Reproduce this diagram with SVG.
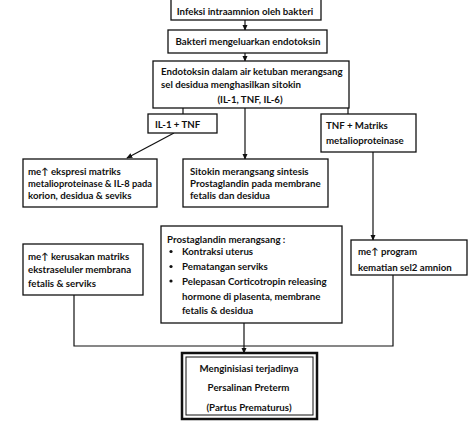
<svg xmlns="http://www.w3.org/2000/svg" width="474" height="427" viewBox="0 0 474 427">
<style>
.b{fill:#fff;stroke:#111;stroke-width:1.3}
.t{font-family:Lato,"Liberation Sans","DejaVu Sans",sans-serif;font-size:9.7px;font-weight:700;fill:#111}
.c{text-anchor:middle}
.l{fill:none;stroke:#111;stroke-width:1.2}
.a{fill:none;stroke:#111;stroke-width:1.2;marker-end:url(#ah)}
</style>
<defs>
<marker id="ah" viewBox="0 0 8 8" refX="7" refY="4" markerWidth="6" markerHeight="6" markerUnits="userSpaceOnUse" orient="auto">
<path d="M0,0.5 L8,4 L0,7.5 Z" fill="#111"/>
</marker>
</defs>
<rect width="474" height="427" fill="#fff"/>
<g id="connectors">
<line class="a" x1="245" y1="20" x2="245" y2="30"/>
<line class="a" x1="245" y1="53" x2="245" y2="61"/>
<line class="l" x1="183" y1="108" x2="183" y2="114"/>
<line class="a" x1="245" y1="108" x2="245" y2="159"/>
<line class="l" x1="348" y1="108" x2="348" y2="114"/>
<line class="a" x1="174" y1="133" x2="127" y2="158"/>
<line class="a" x1="373" y1="152" x2="373" y2="240"/>
<polyline class="l" points="74,295 74,346 393,346 393,275"/>
<line class="a" x1="244" y1="323" x2="244" y2="353"/>
</g>
<g id="n1">
<rect class="b" x="171" y="-2" width="150" height="22"/>
<text class="t c" x="245" y="14.5">Infeksi  intraamnion oleh bakteri</text>
</g>
<g id="n2">
<rect class="b" x="168" y="30" width="159" height="23"/>
<text class="t c" x="248" y="44.5">Bakteri mengeluarkan endotoksin</text>
</g>
<g id="n3">
<rect class="b" x="153" y="61" width="196" height="47"/>
<text class="t" x="161" y="75">Endotoksin dalam air ketuban merangsang</text>
<text class="t" x="161" y="88">sel desidua menghasilkan sitokin</text>
<text class="t c" x="250" y="103">(IL-1, TNF, IL-6)</text>
</g>
<g id="n4">
<rect class="b" x="148" y="114" width="69" height="19"/>
<text class="t" x="155" y="127.5">IL-1 + TNF</text>
</g>
<g id="n5">
<rect class="b" x="321" y="114" width="95" height="38"/>
<text class="t" x="326" y="128.5">TNF + Matriks</text>
<text class="t" x="326" y="143.5">metalioproteinase</text>
</g>
<g id="n6">
<rect class="b" x="23" y="159" width="134" height="48"/>
<text class="t" x="28" y="175">me↑ ekspresi matriks</text>
<text class="t" x="28" y="187" textLength="124" lengthAdjust="spacingAndGlyphs">metalioproteinase &amp; IL-8 pada</text>
<text class="t" x="28" y="199">korion, desidua &amp; seviks</text>
</g>
<g id="n7">
<rect class="b" x="183" y="159" width="145" height="48"/>
<text class="t" x="190" y="175">Sitokin merangsang sintesis</text>
<text class="t" x="190" y="187">Prostaglandin pada membrane</text>
<text class="t" x="190" y="199">fetalis dan desidua</text>
</g>
<g id="n8">
<rect class="b" x="23" y="244" width="120" height="51"/>
<text class="t" x="28" y="260">me↑ kerusakan matriks</text>
<text class="t" x="28" y="273">ekstraseluler membrana</text>
<text class="t" x="28" y="287">fetalis &amp; serviks</text>
</g>
<g id="n9">
<rect class="b" x="161" y="226" width="181" height="97"/>
<text class="t" x="167" y="242.5">Prostaglandin merangsang :</text>
<circle cx="171" cy="251.5" r="1.6" fill="#111"/>
<circle cx="171" cy="266.5" r="1.6" fill="#111"/>
<circle cx="171" cy="281" r="1.6" fill="#111"/>
<text class="t" x="182" y="255">Kontraksi  uterus</text>
<text class="t" x="182" y="270">Pematangan serviks</text>
<text class="t" x="182" y="284.5">Pelepasan Corticotropin releasing</text>
<text class="t" x="182" y="299.5">hormone di plasenta, membrane</text>
<text class="t" x="182" y="314">fetalis &amp; desidua</text>
</g>
<g id="n10">
<rect class="b" x="351" y="240" width="116" height="35"/>
<text class="t" x="358" y="254.5">me↑ program</text>
<text class="t" x="358" y="270.5">kematian sel2 amnion</text>
</g>
<g id="n11">
<rect x="182" y="353" width="135" height="66" fill="#fff" stroke="#111" stroke-width="2.5"/>
<rect x="186" y="357" width="127" height="58" fill="none" stroke="#111" stroke-width="1"/>
<text class="t c" x="249" y="371.5">Menginisiasi terjadinya</text>
<text class="t c" x="248.5" y="391">Persalinan Preterm</text>
<text class="t c" x="249" y="410.5">(Partus Prematurus)</text>
</g>
</svg>
